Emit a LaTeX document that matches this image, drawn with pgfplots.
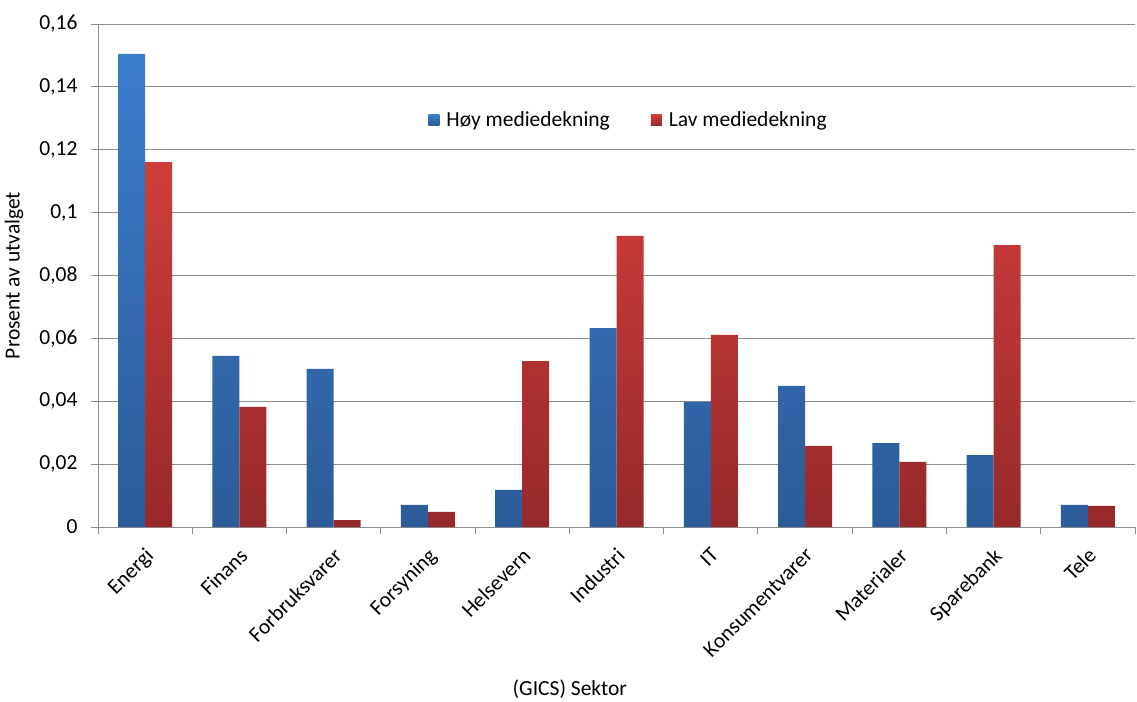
\documentclass[border=0pt]{standalone}
\usepackage{fontspec}
\setmainfont{Carlito}
\usepackage{pgfplots}
\pgfplotsset{compat=1.18}

\definecolor{hoytop}{HTML}{3C7DCD}
\definecolor{hoybot}{HTML}{2C5B98}
\definecolor{lavtop}{HTML}{D03E3B}
\definecolor{lavbot}{HTML}{96292A}
\definecolor{gridgray}{HTML}{8E8E8E}

\newcommand{\chartfont}{\fontsize{21.5}{23}\selectfont}

\begin{document}
\begin{tikzpicture}
\begin{axis}[
  name=ax,
  scale only axis,
  width=1037pt, height=503pt,
  ybar=0pt, bar width=27pt,
  xmin=-0.5, xmax=10.5,
  ymin=0, ymax=0.16,
  ytick={0,0.02,...,0.16},
  xtick={0,...,10},
  xticklabels={Energi,Finans,Forbruksvarer,Forsyning,Helsevern,Industri,IT,Konsumentvarer,Materialer,Sparebank,Tele},
  minor xtick={-0.5,0.5,...,10.5},
  major x tick style={draw=none},
  minor tick length=7pt,
  major tick length=7pt,
  tick align=outside,
  tick style={draw=gridgray, line width=0.9pt},
  axis x line*=bottom, axis y line*=left,
  axis line style={draw=gridgray, line width=0.9pt, -},
  ymajorgrids,
  major grid style={draw=gridgray, line width=0.9pt},
  /pgf/number format/.cd, use comma, fixed, precision=2, assume math mode=true,
  /pgfplots/.cd,
  yticklabel style={font=\chartfont, xshift=-10pt},
  xticklabel style={font=\chartfont, xshift=-1pt, yshift=-11pt, rotate=45, anchor=north east, inner sep=1pt},
  ylabel={Prosent av utvalget},
  ylabel style={font=\chartfont, at={(axis description cs:-0.081,0.5)}, anchor=center, rotate=0},
  xlabel={(GICS) Sektor},
  xlabel style={font=\chartfont, at={(axis description cs:0.455,-0.322)}, anchor=center},
  legend style={draw=none, fill=none, at={(axis description cs:0.514,0.809)}, anchor=center,
    font=\chartfont, legend columns=2,
    /tikz/every even column/.append style={column sep=34pt},
    nodes={inner xsep=7pt}},
  legend image code/.code={\path[#1, draw=none] (0pt,-5.5pt) rectangle (11pt,5.5pt);},
]
\addplot[draw=none, top color=hoytop, bottom color=hoybot] coordinates {
  (0,0.1505) (1,0.0544) (2,0.0503) (3,0.0070) (4,0.0118) (5,0.0633)
  (6,0.0398) (7,0.0449) (8,0.0267) (9,0.0229) (10,0.0070)};
\addplot[draw=none, top color=lavtop, bottom color=lavbot] coordinates {
  (0,0.1161) (1,0.0382) (2,0.0022) (3,0.0048) (4,0.0528) (5,0.0926)
  (6,0.0611) (7,0.0258) (8,0.0207) (9,0.0897) (10,0.0067)};
\legend{Høy mediedekning, Lav mediedekning}
\end{axis}
\path ([xshift=-98pt,yshift=-173pt]ax.south west) rectangle ([xshift=2pt,yshift=24pt]ax.north east);
\end{tikzpicture}
\end{document}
